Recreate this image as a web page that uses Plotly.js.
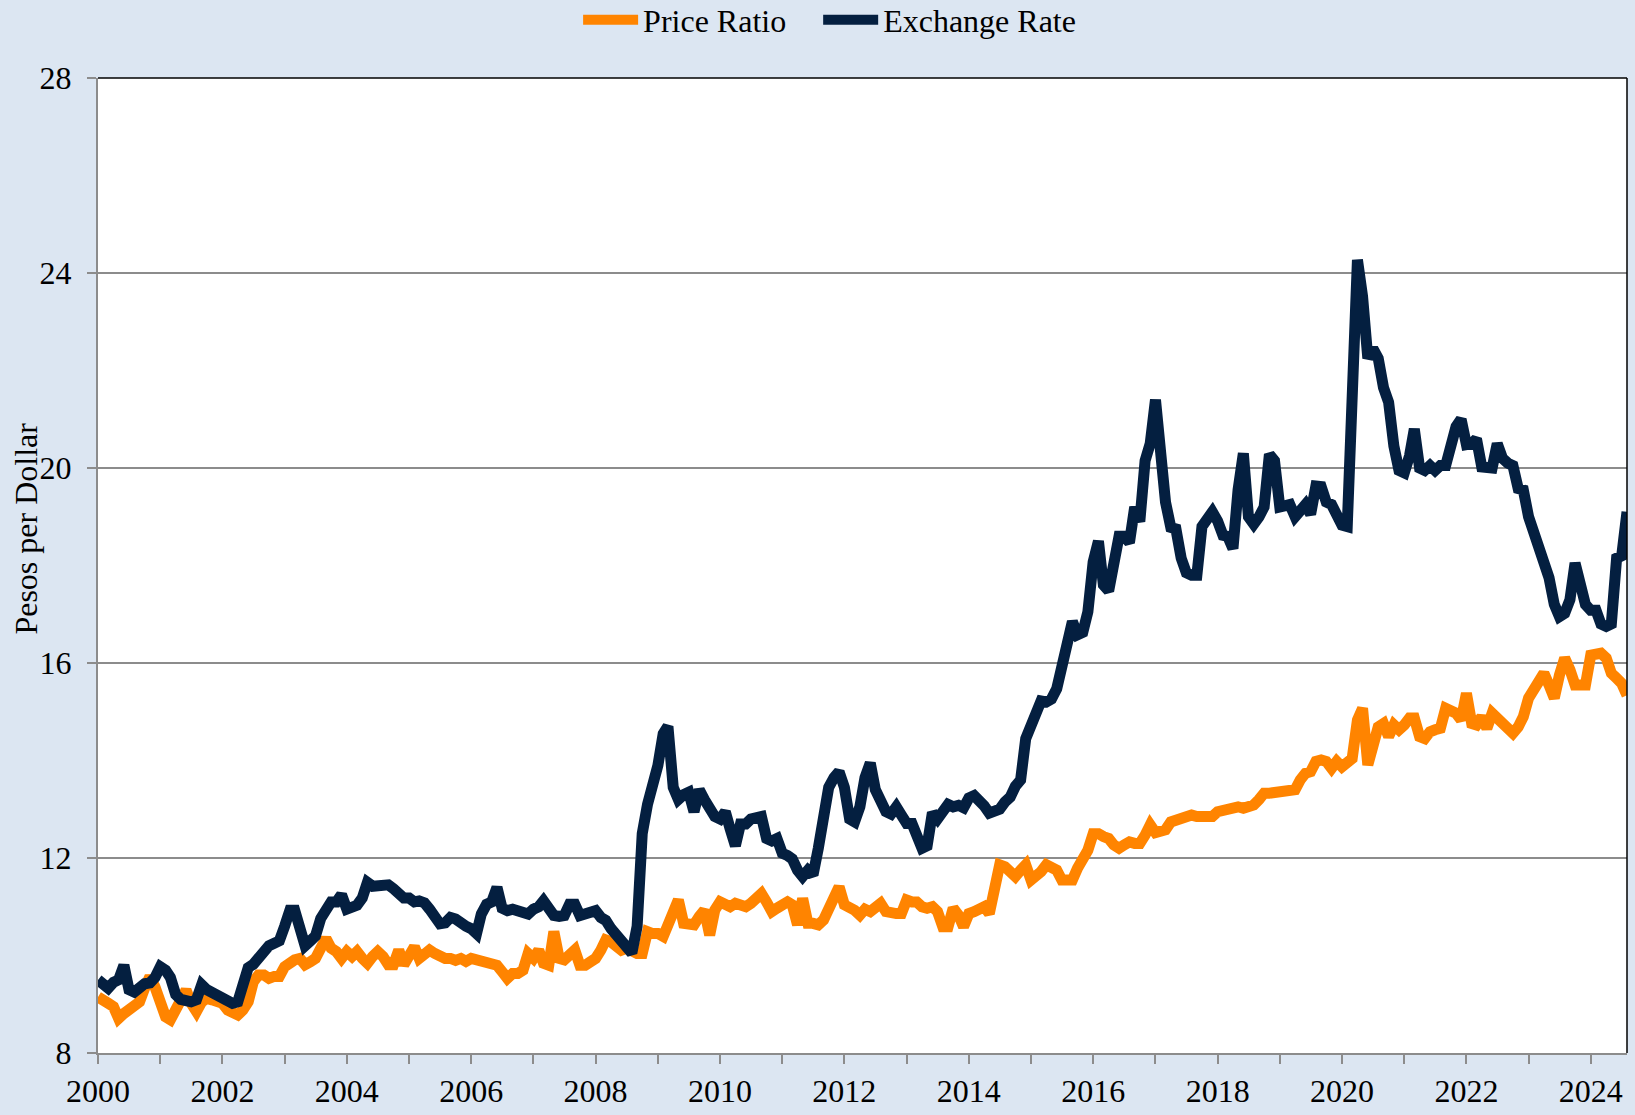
<!DOCTYPE html>
<html>
<head>
<meta charset="utf-8">
<script src="https://cdn.plot.ly/plotly-3.0.1.min.js"></script>
<style>
  html, body { margin: 0; padding: 0; background: #dce6f2; }
  #chart { width: 1635px; height: 1115px; }
</style>
</head>
<body>
<div id="chart"></div>
<script>
// Monthly series, January 2000 to August 2024
const startYear = 2000;
const seriesNames = ["Price Ratio", "Exchange Rate"];
const tickLabels = ["2000","2002","2004","2006","2008","2010","2012","2014","2016","2018","2020","2022","2024"];

const priceRatio = [
  9.15, 9.05, 9.02, 8.95, 8.71, 8.81, 8.88, 8.95, 9.05, 9.33, 9.57, 9.35,
  8.95, 8.74, 8.68, 8.92, 9.16, 9.29, 9.02, 8.85, 9.05, 9.12, 9.09, 9.05,
  9.02, 8.88, 8.81, 8.78, 8.88, 9.05, 9.46, 9.60, 9.60, 9.53, 9.57, 9.57,
  9.77, 9.87, 9.91, 9.94, 9.81, 9.87, 9.94, 10.15, 10.35, 10.15, 10.08, 9.94,
  10.08, 9.98, 10.08, 9.94, 9.84, 9.98, 10.08, 9.98, 9.81, 9.81, 10.11, 9.81,
  9.98, 10.18, 9.94, 10.01, 10.11, 10.04, 9.98, 9.94, 9.94, 9.90, 9.94, 9.88,
  9.94, 9.91, 9.94, 9.91, 9.87, 9.80, 9.67, 9.53, 9.63, 9.63, 9.70, 10.04,
  9.94, 10.11, 9.84, 9.80, 10.49, 9.94, 9.91, 10.04, 10.11, 9.80, 9.80, 9.87,
  9.94, 10.11, 10.32, 10.28, 10.22, 10.11, 10.15, 10.08, 10.04, 10.04, 10.49, 10.45,
  10.45, 10.39, 10.59, 10.86, 11.14, 10.66, 10.63, 10.63, 10.80, 10.93, 10.42, 10.93,
  11.10, 11.07, 11.00, 11.07, 11.04, 11.00, 11.07, 11.17, 11.27, 11.10, 10.90, 10.97,
  11.07, 11.10, 11.04, 10.63, 11.17, 10.66, 10.66, 10.63, 10.73, 10.97, 11.21, 11.41,
  11.04, 11.00, 10.93, 10.83, 10.95, 10.90, 10.97, 11.07, 10.90, 10.86, 10.86, 10.86,
  11.14, 11.10, 11.10, 11.00, 10.97, 11.00, 10.90, 10.59, 10.59, 10.97, 10.83, 10.59,
  10.86, 10.90, 10.97, 11.00, 10.86, 11.45, 11.86, 11.82, 11.75, 11.62, 11.75, 11.86,
  11.55, 11.62, 11.72, 11.86, 11.79, 11.75, 11.55, 11.55, 11.55, 11.79, 11.96, 12.16,
  12.50, 12.50, 12.44, 12.40, 12.27, 12.20, 12.27, 12.33, 12.30, 12.30, 12.47, 12.68,
  12.52, 12.55, 12.58, 12.74, 12.78, 12.85, 12.88, 12.88, 12.85, 12.85, 12.81, 12.85,
  12.95, 12.98, 12.98, 12.98, 13.05, 13.02, 13.05, 13.09, 13.20, 13.33, 13.33, 13.34,
  13.40, 13.41, 13.40, 13.40, 13.60, 13.74, 13.77, 13.98, 14.01, 13.98, 13.84, 13.98,
  13.87, 13.94, 14.04, 14.83, 15.07, 13.91, 14.42, 14.69, 14.76, 14.49, 14.73, 14.63,
  14.73, 14.87, 14.87, 14.49, 14.45, 14.59, 14.63, 14.66, 15.07, 15.04, 14.97, 14.83,
  15.38, 14.76, 14.73, 14.90, 14.66, 14.97, 14.87, 14.80, 14.69, 14.56, 14.69, 14.90,
  15.28, 15.48, 15.55, 15.79, 15.55, 15.28, 15.75, 16.10, 15.86, 15.55, 15.55, 15.55,
  16.16, 16.16, 16.20, 16.10, 15.79, 15.69, 15.58, 15.34
];

const exchangeRate = [
  9.50, 9.42, 9.33, 9.45, 9.50, 9.80, 9.30, 9.25, 9.35, 9.42, 9.44, 9.55,
  9.77, 9.70, 9.55, 9.20, 9.10, 9.07, 9.05, 9.09, 9.40, 9.30, 9.25, 9.19,
  9.17, 9.10, 9.02, 9.05, 9.45, 9.75, 9.82, 9.95, 10.10, 10.20, 10.25, 10.30,
  10.60, 10.93, 10.93, 10.60, 10.20, 10.30, 10.40, 10.76, 11.00, 11.10, 11.10, 11.25,
  10.95, 11.00, 11.03, 11.18, 11.50, 11.42, 11.43, 11.40, 11.45, 11.37, 11.30, 11.18,
  11.18, 11.10, 11.12, 11.08, 10.95, 10.80, 10.65, 10.67, 10.78, 10.75, 10.65, 10.60,
  10.55, 10.45, 10.85, 11.05, 11.10, 11.40, 10.97, 10.92, 10.95, 10.90, 10.88, 10.85,
  10.95, 11.00, 11.12, 10.98, 10.82, 10.80, 10.82, 11.05, 11.05, 10.82, 10.85, 10.86,
  10.92, 10.78, 10.72, 10.55, 10.42, 10.30, 10.17, 10.05, 10.60, 12.50, 13.10, 13.45,
  13.90, 14.55, 14.70, 13.45, 13.20, 13.30, 13.35, 12.95, 13.40, 13.20, 13.05, 12.85,
  12.80, 12.95, 12.60, 12.25, 12.70, 12.70, 12.80, 12.80, 12.85, 12.40, 12.35, 12.40,
  12.10, 12.05, 11.98, 11.75, 11.62, 11.75, 11.65, 12.20, 13.00, 13.45, 13.65, 13.77,
  13.45, 12.80, 12.74, 13.05, 13.65, 13.95, 13.40, 13.15, 12.95, 12.90, 13.05, 12.88,
  12.71, 12.71, 12.50, 12.20, 12.25, 12.93, 12.80, 12.92, 13.10, 13.05, 13.08, 13.03,
  13.23, 13.28, 13.20, 13.07, 12.92, 12.98, 13.00, 13.15, 13.25, 13.47, 13.60, 14.45,
  14.69, 14.93, 15.22, 15.20, 15.26, 15.47, 15.93, 16.50, 16.85, 16.58, 16.63, 17.05,
  18.07, 18.50, 17.60, 17.48, 18.15, 18.60, 18.60, 18.47, 19.20, 18.90, 20.15, 20.50,
  21.40, 20.30, 19.30, 18.78, 18.75, 18.15, 17.85, 17.80, 17.80, 18.80, 18.95, 19.10,
  18.91, 18.62, 18.60, 18.35, 19.55, 20.30, 19.00, 18.85, 19.00, 19.20, 20.28, 20.15,
  19.20, 19.22, 19.25, 19.00, 19.15, 19.25, 19.05, 19.63, 19.62, 19.30, 19.25, 19.05,
  18.83, 18.80, 22.35, 24.27, 23.52, 22.25, 22.45, 22.25, 21.65, 21.35, 20.45, 19.95,
  19.90, 20.25, 20.80, 20.00, 19.95, 20.05, 19.95, 20.05, 20.05, 20.48, 20.85, 21.00,
  20.48, 20.50, 20.60, 20.02, 20.00, 20.00, 20.50, 20.20, 20.10, 20.05, 19.58, 19.55,
  19.00, 18.65, 18.42, 18.08, 17.75, 17.20, 16.95, 17.02, 17.30, 18.05, 17.50, 17.20,
  17.08, 17.08, 16.80, 16.75, 16.80, 18.15, 18.20, 19.10
];

function monthDates(n) {
  const out = [];
  for (let i = 0; i < n; i++) {
    const y = startYear + Math.floor(i / 12);
    const m = (i % 12) + 1;
    out.push(y + "-" + (m < 10 ? "0" + m : m) + "-01");
  }
  return out;
}

const dates = monthDates(priceRatio.length);
const tickVals = tickLabels.map(t => t + "-01-01");

const fontFam = '"Liberation Serif", "Times New Roman", serif';

const traces = [
  {
    x: dates, y: priceRatio, name: seriesNames[0], type: "scatter", mode: "lines",
    line: { color: "#ff8400", width: 11, shape: "linear" }, legend: "legend"
  },
  {
    x: dates, y: exchangeRate, name: seriesNames[1], type: "scatter", mode: "lines",
    line: { color: "#041f40", width: 11, shape: "linear" }, legend: "legend2"
  }
];

const legendBase = {
  orientation: "h", xref: "paper", xanchor: "left",
  yref: "container", y: 0.982, yanchor: "middle",
  font: { family: fontFam, size: 32, color: "#000000" },
  bgcolor: "rgba(0,0,0,0)", itemwidth: 55
};

const layout = {
  width: 1635, height: 1115,
  paper_bgcolor: "#dce6f2",
  plot_bgcolor: "#ffffff",
  margin: { l: 98, r: 8, t: 78, b: 62, autoexpand: false },
  font: { family: fontFam, size: 32, color: "#000000" },
  showlegend: true,
  legend: Object.assign({}, legendBase, { x: 0.314 }),
  legend2: Object.assign({}, legendBase, { x: 0.471 }),
  xaxis: {
    type: "date",
    range: [dates[0], dates[dates.length - 1]],
    tickvals: tickVals, ticktext: tickLabels,
    ticks: "outside", ticklen: 9, tickwidth: 2, tickcolor: "#8c8c8c",
    showline: true, linecolor: "#8c8c8c", linewidth: 2,
    showgrid: false, zeroline: false,
    minor: { dtick: "M12", tick0: "2000-01-01", ticks: "outside", ticklen: 9, tickwidth: 2, tickcolor: "#8c8c8c", showgrid: false },
    tickfont: { family: fontFam, size: 32, color: "#000000" },
    fixedrange: true
  },
  yaxis: {
    range: [8, 28], dtick: 4, tick0: 8,
    ticks: "outside", ticklen: 9, tickwidth: 2, tickcolor: "#8c8c8c",
    showline: true, linecolor: "#8c8c8c", linewidth: 2,
    showgrid: true, gridcolor: "#8c8c8c", gridwidth: 2,
    zeroline: false,
    tickfont: { family: fontFam, size: 32, color: "#000000" },
    ticklabelstandoff: 9,
    fixedrange: true
  },
  shapes: [
    { type: "line", xref: "paper", yref: "paper", x0: 0, x1: 1, y0: 1, y1: 1, line: { color: "#000000", width: 1.5 }, layer: "above" },
    { type: "line", xref: "paper", yref: "paper", x0: 1, x1: 1, y0: 0, y1: 1, line: { color: "#000000", width: 1.5 }, layer: "above" }
  ],
  annotations: [
    {
      text: "Pesos per Dollar", xref: "paper", yref: "paper",
      x: -0.047, y: 0.538, xanchor: "center", yanchor: "middle",
      textangle: -90, showarrow: false,
      font: { family: fontFam, size: 32, color: "#000000" }
    }
  ]
};

Plotly.newPlot("chart", traces, layout, { displayModeBar: false, staticPlot: true });
</script>
</body>
</html>
